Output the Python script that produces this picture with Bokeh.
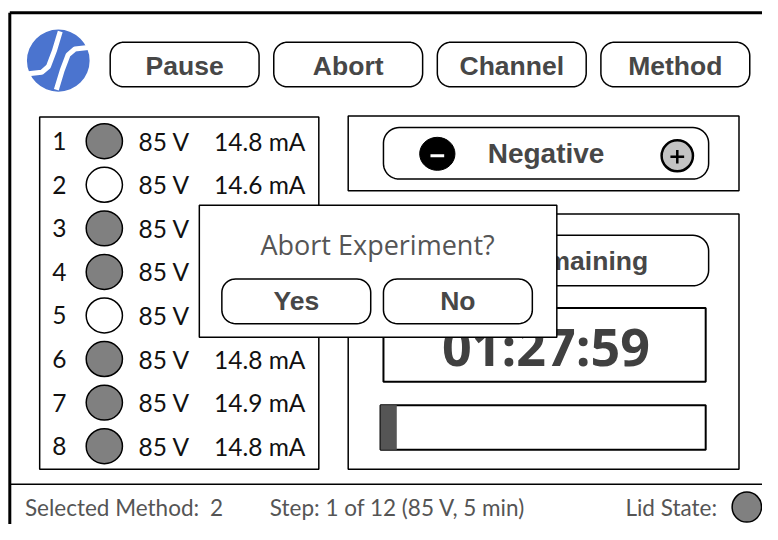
import numpy as np
from bokeh.plotting import figure
from bokeh.models import Range1d
from bokeh.embed import file_html
from bokeh.resources import INLINE
from bokeh.core.properties import value

# ---------------- data ----------------
top_buttons = ["Pause", "Abort", "Channel", "Method"]
channel_ids = [1, 2, 3, 4, 5, 6, 7, 8]
channel_active = [True, False, True, True, False, True, True, True]
channel_volts = [85, 85, 85, 85, 85, 85, 85, 85]
channel_milliamps = [14.8, 14.6, 14.8, 14.8, 14.8, 14.8, 14.9, 14.8]
polarity = "Negative"
timer_title = "Time Remaining"
time_left = "01:27:59"
progress_fraction = 0.05
dialog_title = "Abort Experiment?"
dialog_choices = ["Yes", "No"]
selected_method = 2
step_index, step_count = 1, 12
step_volts, step_minutes = 85, 5
lid_closed = True

# ---------------- helpers ----------------
def rrect(x0, y0, x1, y1, r, n=12):
    xs, ys = [], []
    for cx, cy, a0 in [(x0 + r, y0 + r, np.pi), (x1 - r, y0 + r, 1.5 * np.pi),
                       (x1 - r, y1 - r, 0.0), (x0 + r, y1 - r, 0.5 * np.pi)]:
        a = np.linspace(a0, a0 + 0.5 * np.pi, n)
        xs.extend(cx + r * np.cos(a))
        ys.extend(cy + r * np.sin(a))
    return list(xs), list(ys)

BTN_FONT = value("Liberation Sans")
BTN_COLOR = "#474747"

p = figure(width=762, height=524, x_range=Range1d(0, 778), y_range=Range1d(540, 0),
           output_backend="svg", toolbar_location=None, min_border=0)
p.axis.visible = False
p.grid.visible = False
p.outline_line_color = None
p.background_fill_color = "white"

# outer frame
p.line(x=[9.5, 800], y=[12.5, 12.5], line_color="black", line_width=3)
p.line(x=[9.5, 9.5], y=[12.5, 560], line_color="black", line_width=3)
p.line(x=[9.5, 800], y=[498.5, 498.5], line_color="black", line_width=1.5)

# logo
p.ellipse(x=[59], y=[62], width=[64], height=[64], fill_color="#4b74cf", line_color=None)
p.line(x=[94, 76, 69, 63, 57], y=[48, 50, 56, 72, 92], line_color="white", line_width=5)
p.line(x=[24, 42, 49, 55, 61], y=[76, 74, 68, 52, 32], line_color="white", line_width=5)

# top buttons
bx0 = [112, 279, 446, 613]
xs, ys = zip(*[rrect(x, 43, x + 152, 89, 14) for x in bx0])
p.patches(xs=list(xs), ys=list(ys), fill_color="white", line_color="black", line_width=1.5)
p.text(x=[x + 76 for x in bx0], y=[67] * 4, text=top_buttons, text_font=BTN_FONT,
       text_font_style="bold", text_font_size="26.5px", text_color=BTN_COLOR,
       text_align="center", text_baseline="middle")

# channel panel
p.quad(left=[40], right=[325], top=[120], bottom=[483], fill_color="white",
       line_color="black", line_width=1.5)
row_y = [145 + 44.9 * i for i in range(8)]
p.ellipse(x=[106] * 8, y=row_y, width=[37] * 8, height=[36] * 8,
          fill_color=["#808080" if a else "white" for a in channel_active],
          line_color="black", line_width=1.5)
ROW_FONT = value("Lato")
p.text(x=[60] * 8, y=row_y, text=[str(c) for c in channel_ids], text_font=ROW_FONT,
       text_font_size="24.5px", text_color="#111111", text_align="center", text_baseline="middle")
p.text(x=[141] * 8, y=row_y, text=[f"{v} V" for v in channel_volts], text_font=ROW_FONT,
       text_font_size="24.5px", text_color="#111111", text_align="left", text_baseline="middle")
p.text(x=[218] * 8, y=row_y, text=[f"{c:.1f} mA" for c in channel_milliamps], text_font=ROW_FONT,
       text_font_size="24.5px", text_color="#111111", text_align="left", text_baseline="middle")

# polarity panel
p.quad(left=[355], right=[754], top=[119], bottom=[196], fill_color="white",
       line_color="black", line_width=1.5)
x, y = rrect(391, 131, 723, 184, 16)
p.patch(x=x, y=y, fill_color="white", line_color="black", line_width=1.5)
p.ellipse(x=[446], y=[158], width=[36], height=[34], fill_color="black", line_color="black")
p.line(x=[439, 453], y=[160, 160], line_color="white", line_width=3)
p.ellipse(x=[691], y=[160], width=[32], height=[32], fill_color="#c3c3c3",
          line_color="black", line_width=2.5)
p.line(x=[684, 698], y=[161, 161], line_color="black", line_width=2.5)
p.line(x=[691, 691], y=[154, 168], line_color="black", line_width=2.5)
p.text(x=[557], y=[158], text=[polarity], text_font=BTN_FONT, text_font_style="bold",
       text_font_size="28px", text_color=BTN_COLOR, text_align="center", text_baseline="middle")

# timer panel
p.quad(left=[355], right=[754], top=[220], bottom=[483], fill_color="white",
       line_color="black", line_width=1.5)
x, y = rrect(391, 242, 723, 294, 16)
p.patch(x=x, y=y, fill_color="white", line_color="black", line_width=1.5)
p.text(x=[557], y=[268], text=[timer_title], text_font=BTN_FONT, text_font_style="bold",
       text_font_size="26.5px", text_color=BTN_COLOR, text_align="center", text_baseline="middle")
p.quad(left=[391], right=[720], top=[317], bottom=[393], fill_color="white",
       line_color="black", line_width=2)
p.text(x=[557], y=[356], text=[time_left], text_font=value("Open Sans"), text_font_style="bold",
       text_font_size="52px", text_color="#404040", text_align="center", text_baseline="middle")
p.quad(left=[388], right=[720], top=[417], bottom=[463], fill_color="white",
       line_color="black", line_width=2)
p.quad(left=[388], right=[388 + progress_fraction * (720 - 388)], top=[417], bottom=[463],
       fill_color="#555555", line_color=None)

# dialog
p.quad(left=[203], right=[568], top=[211], bottom=[347], fill_color="white",
       line_color="black", line_width=1.5)
p.text(x=[385], y=[251], text=[dialog_title], text_font=value("Open Sans"),
       text_font_size="27px", text_color="#555555", text_align="center", text_baseline="middle")
dx0 = [226, 391]
xs, ys = zip(*[rrect(x, 287, x + 152, 333, 14) for x in dx0])
p.patches(xs=list(xs), ys=list(ys), fill_color="white", line_color="black", line_width=1.5)
p.text(x=[x + 76 for x in dx0], y=[310] * 2, text=dialog_choices, text_font=BTN_FONT,
       text_font_style="bold", text_font_size="26.5px", text_color=BTN_COLOR,
       text_align="center", text_baseline="middle")

# status bar
STAT_FONT = value("Lato")
p.text(x=[25, 214, 275, 638],
       y=[522] * 4,
       text=["Selected Method:", str(selected_method),
             f"Step: {step_index} of {step_count} ({step_volts} V, {step_minutes} min)",
             "Lid State:"],
       text_font=STAT_FONT, text_font_size="22.5px", text_color="#555555",
       text_align="left", text_baseline="middle")
p.ellipse(x=[762], y=[522], width=[30], height=[31],
          fill_color="#808080" if lid_closed else "white", line_color="black", line_width=1.5)

open("out.html", "w").write(file_html(p, INLINE))
